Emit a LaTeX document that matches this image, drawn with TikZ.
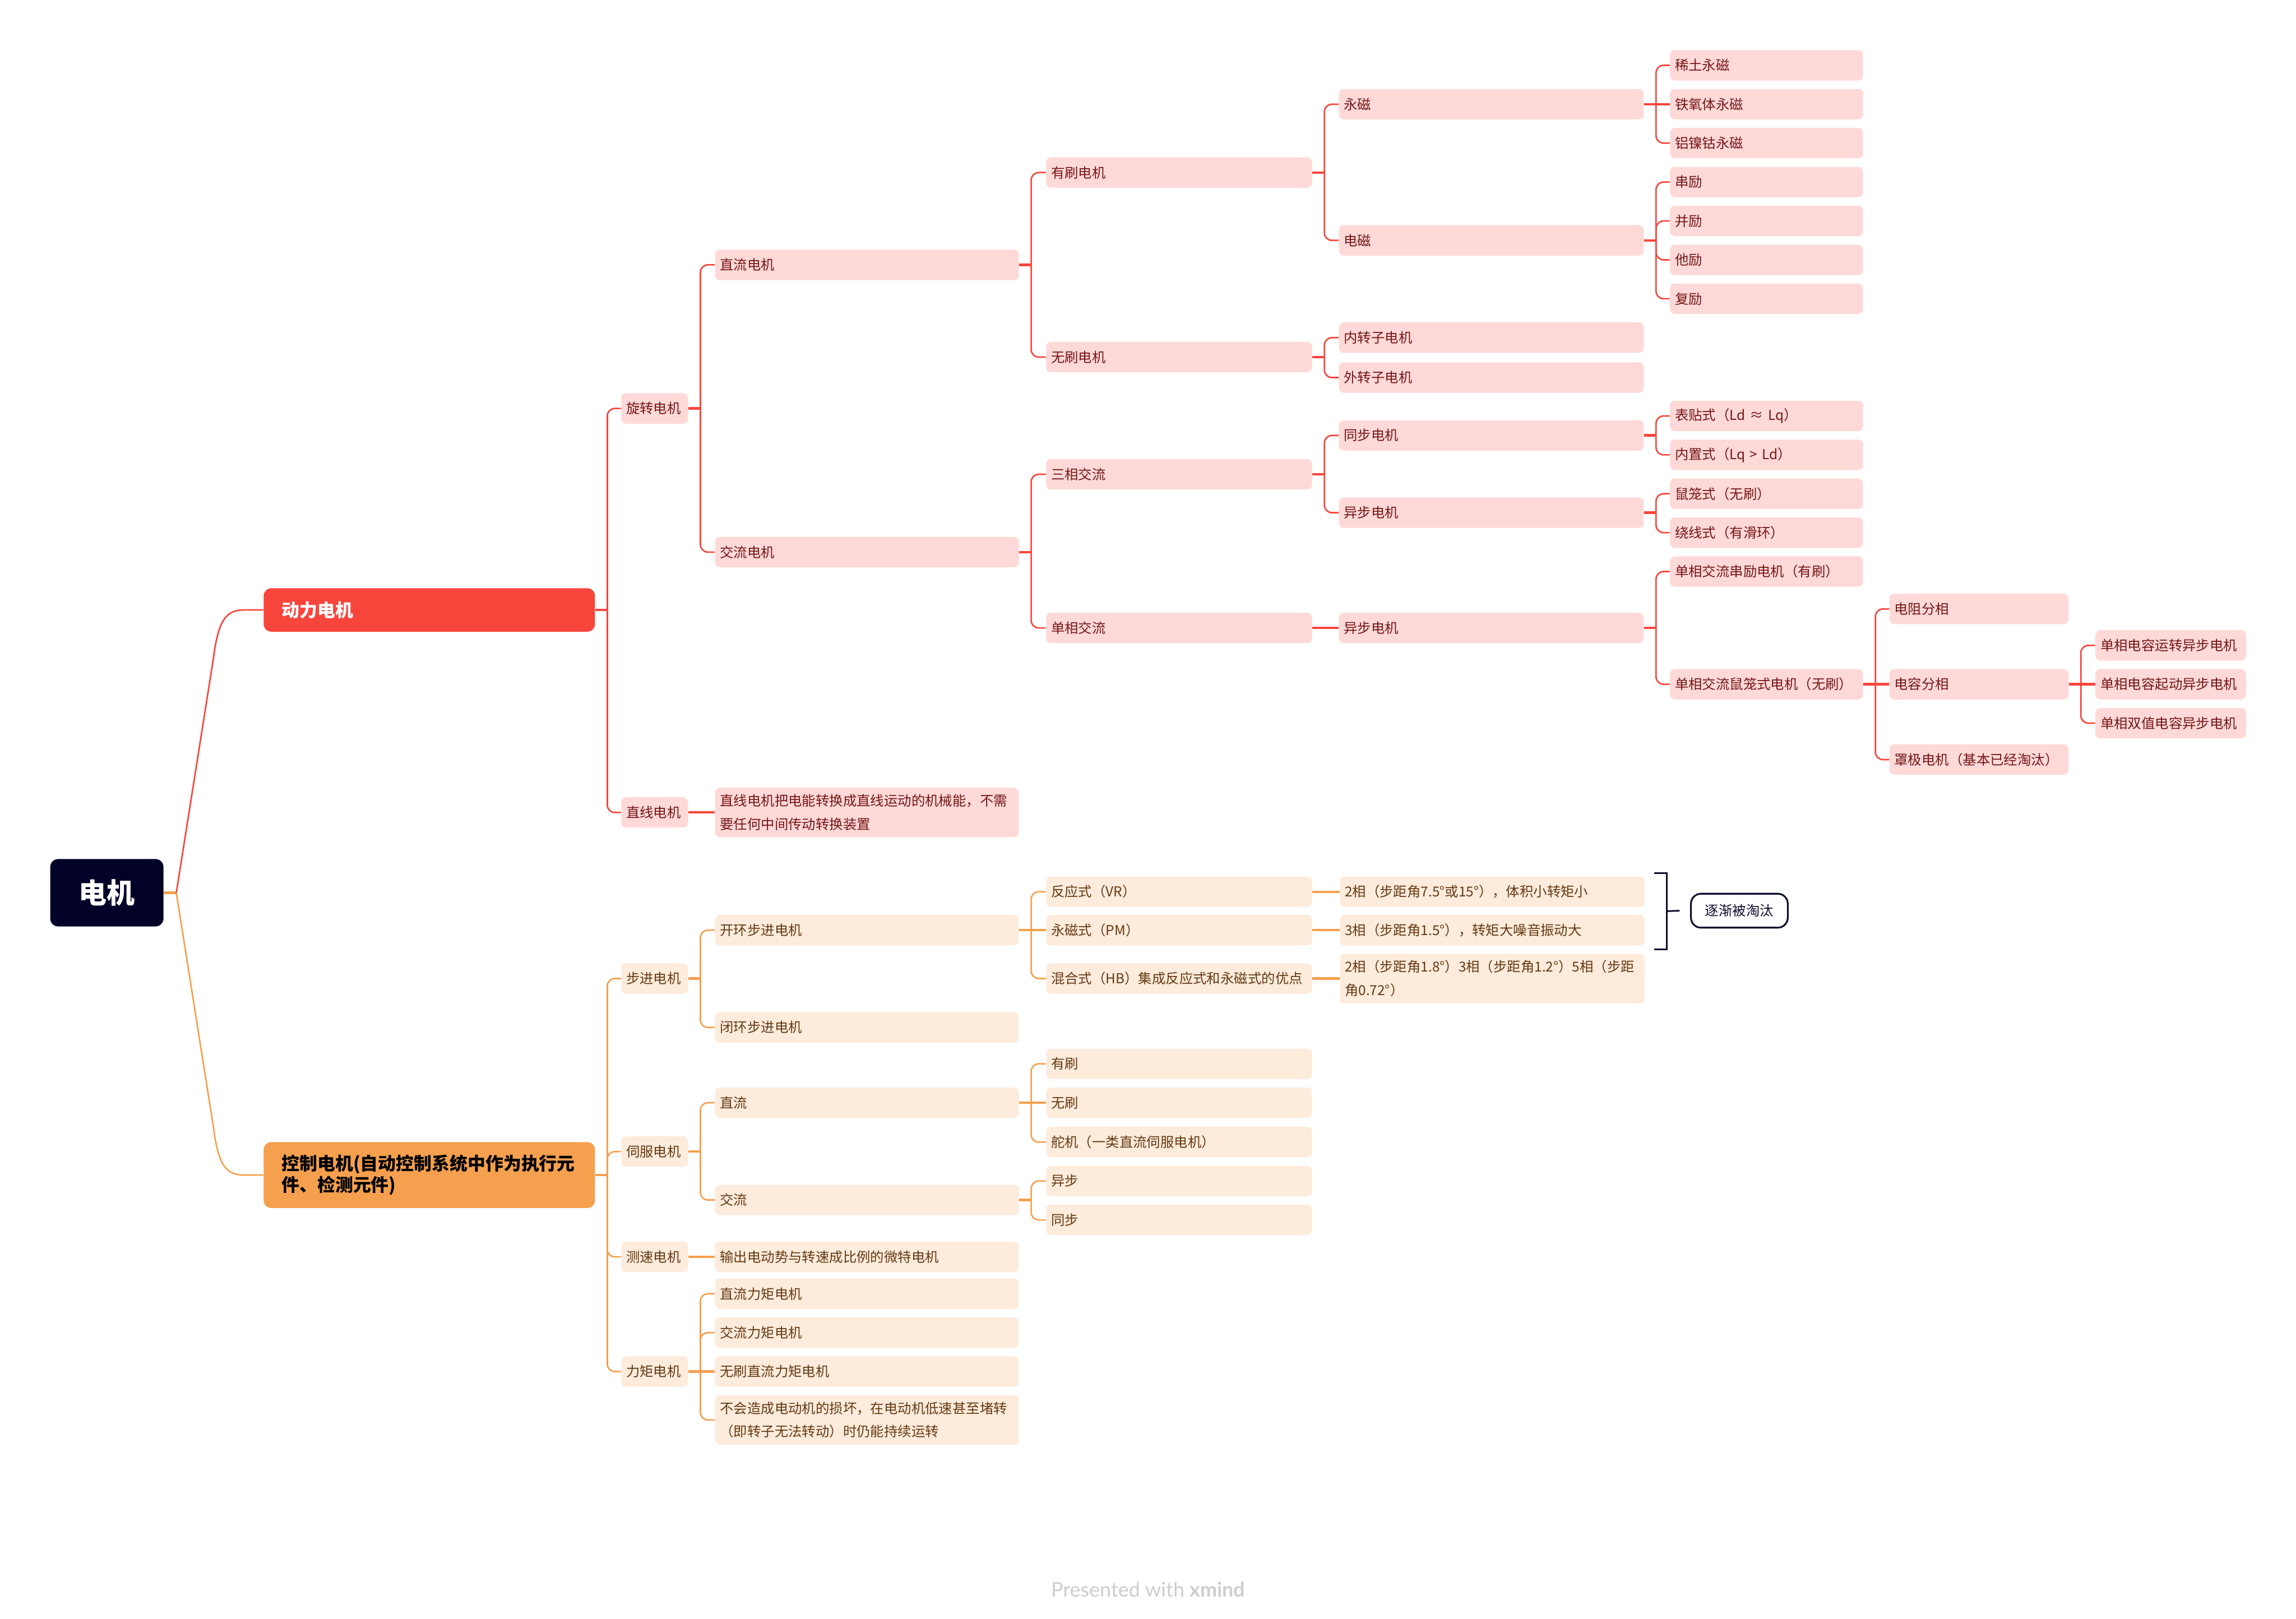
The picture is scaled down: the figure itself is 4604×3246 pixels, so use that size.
\documentclass[tikz,border=0pt]{standalone}
\usepackage{fontspec}
\setmainfont{Noto Sans CJK SC}
\newfontfamily\footfont{Lato}
\usetikzlibrary{calc}
\definecolor{redc}{RGB}{248,69,60}
\definecolor{pinkf}{RGB}{255,217,216}
\definecolor{pinkt}{RGB}{115,22,22}
\definecolor{orangec}{RGB}{245,160,78}
\definecolor{beigef}{RGB}{253,235,220}
\definecolor{brownt}{RGB}{100,58,18}
\definecolor{rootc}{RGB}{2,2,40}
\definecolor{navyc}{RGB}{12,12,45}
\definecolor{footg}{RGB}{205,205,205}
\tikzset{
  nd/.style={anchor=west, rounded corners=0.1cm, inner xsep=0.1cm, inner ysep=0pt, minimum height=0.61cm, align=left, font=\fontsize{7.8}{13.4}\selectfont},
  rn/.style={nd, fill=pinkf, text=pinkt},
  on/.style={nd, fill=beigef, text=brownt},
  wA/.style={text width=1.14cm},
  wB/.style={text width=5.89cm},
  wC/.style={text width=5.13cm},
  wD/.style={text width=5.91cm},
  wE/.style={text width=3.67cm},
  wF/.style={text width=3.39cm},
  wG/.style={text width=2.82cm},
  tall/.style={minimum height=0.99cm},
  rl/.style={draw=redc, line width=0.85pt, rounded corners=0.15cm},
  rs/.style={draw=redc, line width=1.4pt},
  ol/.style={draw=orangec, line width=0.85pt, rounded corners=0.15cm},
  os/.style={draw=orangec, line width=1.4pt},
  mainbox/.style={anchor=west, rounded corners=0.15cm, text width=5.92cm, inner xsep=0.36cm, inner ysep=0pt, align=left, font=\fontsize{10.2}{12}\selectfont\bfseries},
  rootbox/.style={anchor=west, fill=rootc, text=white, rounded corners=0.16cm, minimum width=2.27cm, minimum height=1.35cm, inner sep=0pt, font=\fontsize{16}{16}\selectfont\bfseries},
  brk/.style={draw=navyc, line width=0.95pt},
  summbox/.style={anchor=west, draw=navyc, line width=1pt, fill=white, text=navyc, rounded corners=0.2cm, minimum width=1.94cm, minimum height=0.68cm, inner sep=0pt, font=\fontsize{7.8}{9}\selectfont}
}
\newcommand\mmkid[3]{\draw[#1] ($(#2.east)+(24,0)$) |- (#3.west);}
\newcommand\mmstub[2]{\draw[#1] (#2.east) -- ++(24,0);}
\begin{document}
\begin{tikzpicture}[x=0.01cm,y=-0.01cm]
\useasboundingbox (0,0) rectangle (4604,3246);
% root and main topics
\node[rootbox] (root) at (100,1790) {电机};
\node[mainbox, fill=redc, text=white, minimum height=0.87cm] (dongli) at (528,1223) {动力电机};
\node[mainbox, fill=orangec, text=black, minimum height=1.32cm] (kongzhi) at (528,2356) {控制电机(自动控制系统中作为执行元\\件、检测元件)};
% ---------- red branch ----------
\node[rn,wA] (rot) at (1245,819) {旋转电机};
\node[rn,wA] (lin) at (1245,1629) {直线电机};
\node[rn,wB] (dc) at (1433,531) {直流电机};
\node[rn,wB] (ac) at (1433,1107) {交流电机};
\node[rn,wB,tall] (lindesc) at (1433,1629) {直线电机把电能转换成直线运动的机械能，不需\\要任何中间传动转换装置};
\node[rn,wC] (brush) at (2097,346) {有刷电机};
\node[rn,wC] (bless) at (2097,716) {无刷电机};
\node[rn,wC] (three) at (2097,951) {三相交流};
\node[rn,wC] (single) at (2097,1259) {单相交流};
\node[rn,wD] (pm) at (2684,209) {永磁};
\node[rn,wD] (em) at (2684,482) {电磁};
\node[rn,wD] (inner) at (2684,677) {内转子电机};
\node[rn,wD] (outer) at (2684,757) {外转子电机};
\node[rn,wD] (sync) at (2684,873) {同步电机};
\node[rn,wD] (async) at (2684,1028) {异步电机};
\node[rn,wD] (sasync) at (2684,1259) {异步电机};
\node[rn,wE] (re) at (3348,131) {稀土永磁};
\node[rn,wE] (fe) at (3348,209) {铁氧体永磁};
\node[rn,wE] (al) at (3348,287) {铝镍钴永磁};
\node[rn,wE] (ser) at (3348,365) {串励};
\node[rn,wE] (par) at (3348,443) {并励};
\node[rn,wE] (sep) at (3348,521) {他励};
\node[rn,wE] (com) at (3348,599) {复励};
\node[rn,wE] (spm) at (3348,834) {表贴式（Ld ≈ Lq）};
\node[rn,wE] (ipm) at (3348,912) {内置式（Lq > Ld）};
\node[rn,wE] (cage) at (3348,990) {鼠笼式（无刷）};
\node[rn,wE] (wound) at (3348,1068) {绕线式（有滑环）};
\node[rn,wE] (univ) at (3348,1146) {单相交流串励电机（有刷）};
\node[rn,wE] (scage) at (3348,1372) {单相交流鼠笼式电机（无刷）};
\node[rn,wF] (rsplit) at (3788,1221) {电阻分相};
\node[rn,wF] (csplit) at (3788,1372) {电容分相};
\node[rn,wF] (shaded) at (3788,1523) {罩极电机（基本已经淘汰）};
\node[rn,wG] (crun) at (4201,1294) {单相电容运转异步电机};
\node[rn,wG] (cstart) at (4201,1372) {单相电容起动异步电机};
\node[rn,wG] (cdual) at (4201,1450) {单相双值电容异步电机};
% ---------- orange branch ----------
\node[on,wA] (step) at (1245,1962) {步进电机};
\node[on,wA] (servo) at (1245,2309) {伺服电机};
\node[on,wA] (tacho) at (1245,2520) {测速电机};
\node[on,wA] (torque) at (1245,2750) {力矩电机};
\node[on,wB] (open) at (1433,1865) {开环步进电机};
\node[on,wB] (closed) at (1433,2060) {闭环步进电机};
\node[on,wB] (sdc) at (1433,2211) {直流};
\node[on,wB] (sac) at (1433,2406) {交流};
\node[on,wB] (tdesc) at (1433,2520) {输出电动势与转速成比例的微特电机};
\node[on,wB] (tq1) at (1433,2594) {直流力矩电机};
\node[on,wB] (tq2) at (1433,2672) {交流力矩电机};
\node[on,wB] (tq3) at (1433,2750) {无刷直流力矩电机};
\node[on,wB,tall] (tq4) at (1433,2847) {不会造成电动机的损坏，在电动机低速甚至堵转\\（即转子无法转动）时仍能持续运转};
\node[on,wC] (vr) at (2097,1788) {反应式（VR）};
\node[on,wC] (pmst) at (2097,1865) {永磁式（PM）};
\node[on,wC] (hb) at (2097,1962) {混合式（HB）集成反应式和永磁式的优点};
\node[on,wC] (sbr) at (2097,2133) {有刷};
\node[on,wC] (sbl) at (2097,2211) {无刷};
\node[on,wC] (rc) at (2097,2290) {舵机（一类直流伺服电机）};
\node[on,wC] (sas) at (2097,2368) {异步};
\node[on,wC] (ssy) at (2097,2446) {同步};
\node[on,wD] (n1) at (2686,1788) {2相（步距角7.5°或15°），体积小转矩小};
\node[on,wD] (n2) at (2686,1865) {3相（步距角1.5°），转矩大噪音振动大};
\node[on,wD,tall] (n3) at (2686,1962) {2相（步距角1.8°）3相（步距角1.2°）5相（步距\\角0.72°）};
% summary
\node[summbox] (summ) at (3389,1826) {逐渐被淘汰};
\coordinate (bmid) at (3342,1827);
\draw[brk] (3317,1751) -- (3342,1751) -- (3342,1903) -- (3317,1903);
\draw[brk] (bmid) -- ($(summ.west)+(-21,0)$);
% ---------- connectors: root ----------
\draw[os] (root.east) -- ++(25,0);
\draw[draw=redc, line width=0.85pt] ($(root.east)+(25,0)$) -- (428,1320) .. controls (438,1240) and (455,1223) .. (490,1223) -- (dongli.west);
\draw[draw=orangec, line width=0.85pt] ($(root.east)+(25,0)$) -- (428,2260) .. controls (438,2340) and (455,2356) .. (490,2356) -- (kongzhi.west);
% ---------- connectors: red ----------
\mmstub{rs}{dongli}
\mmkid{rl}{dongli}{rot}
\mmkid{rl}{dongli}{lin}
\mmstub{rs}{rot}
\mmkid{rl}{rot}{dc}
\mmkid{rl}{rot}{ac}
\draw[rs] (lin.east) -- (lindesc.west);
\mmstub{rs}{dc}
\mmkid{rl}{dc}{brush}
\mmkid{rl}{dc}{bless}
\mmstub{rs}{ac}
\mmkid{rl}{ac}{three}
\mmkid{rl}{ac}{single}
\mmstub{rs}{brush}
\mmkid{rl}{brush}{pm}
\mmkid{rl}{brush}{em}
\mmstub{rs}{bless}
\mmkid{rl}{bless}{inner}
\mmkid{rl}{bless}{outer}
\mmstub{rs}{three}
\mmkid{rl}{three}{sync}
\mmkid{rl}{three}{async}
\draw[rs] (single.east) -- (sasync.west);
\draw[rs] (pm.east) -- (fe.west);
\mmkid{rl}{pm}{re}
\mmkid{rl}{pm}{al}
\mmstub{rs}{em}
\mmkid{rl}{em}{ser}
\mmkid{rl}{em}{par}
\mmkid{rl}{em}{sep}
\mmkid{rl}{em}{com}
\mmstub{rs}{sync}
\mmkid{rl}{sync}{spm}
\mmkid{rl}{sync}{ipm}
\mmstub{rs}{async}
\mmkid{rl}{async}{cage}
\mmkid{rl}{async}{wound}
\mmstub{rs}{sasync}
\mmkid{rl}{sasync}{univ}
\mmkid{rl}{sasync}{scage}
\draw[rs] (scage.east) -- (csplit.west);
\mmkid{rl}{scage}{rsplit}
\mmkid{rl}{scage}{shaded}
\draw[rs] (csplit.east) -- (cstart.west);
\mmkid{rl}{csplit}{crun}
\mmkid{rl}{csplit}{cdual}
% ---------- connectors: orange ----------
\mmstub{os}{kongzhi}
\mmkid{ol}{kongzhi}{step}
\mmkid{ol}{kongzhi}{servo}
\mmkid{ol}{kongzhi}{tacho}
\mmkid{ol}{kongzhi}{torque}
\mmstub{os}{step}
\mmkid{ol}{step}{open}
\mmkid{ol}{step}{closed}
\draw[os] (open.east) -- (pmst.west);
\mmkid{ol}{open}{vr}
\mmkid{ol}{open}{hb}
\draw[os] (vr.east) -- (n1.west);
\draw[os] (pmst.east) -- (n2.west);
\draw[os] (hb.east) -- (n3.west);
\mmstub{os}{servo}
\mmkid{ol}{servo}{sdc}
\mmkid{ol}{servo}{sac}
\draw[os] (sdc.east) -- (sbl.west);
\mmkid{ol}{sdc}{sbr}
\mmkid{ol}{sdc}{rc}
\mmstub{os}{sac}
\mmkid{ol}{sac}{sas}
\mmkid{ol}{sac}{ssy}
\draw[os] (tacho.east) -- (tdesc.west);
\draw[os] (torque.east) -- (tq3.west);
\mmkid{ol}{torque}{tq1}
\mmkid{ol}{torque}{tq2}
\mmkid{ol}{torque}{tq4}
% footer
\node[font=\footfont\fontsize{11.5}{12}\selectfont, text=footg] (footer) at (2302,3187) {Presented with \textbf{xmind}};
\end{tikzpicture}
\end{document}
